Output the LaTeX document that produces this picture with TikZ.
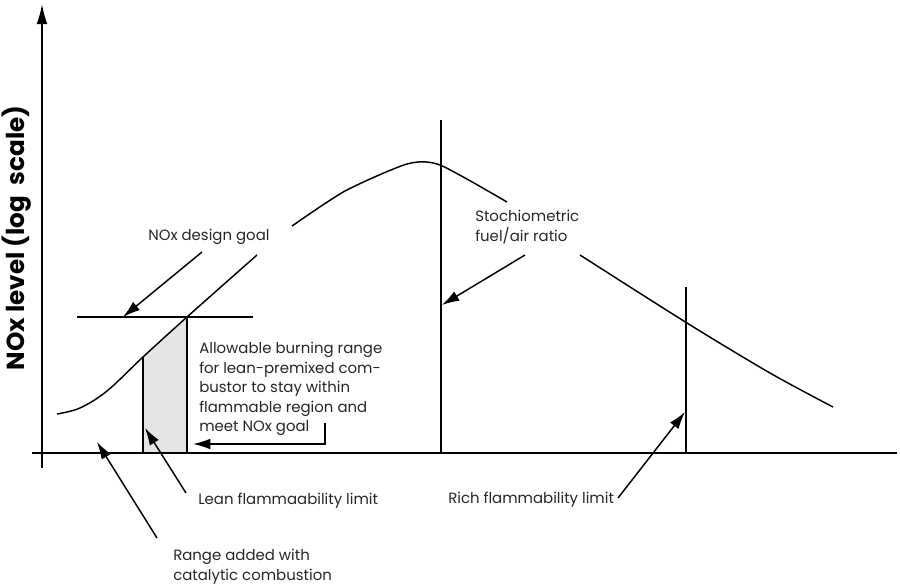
\documentclass[tikz,border=0pt]{standalone}
\usepackage{fontspec}
\setmainfont{Poppins}
\usetikzlibrary{arrows.meta}
\tikzset{
  lbl/.style={font=\fontsize{11.2}{13}\selectfont, text=black!85, inner sep=0pt},
  pointer/.style={line width=1.1pt, -{Latex[length=13pt,width=8pt]}},
  thinline/.style={line width=1.1pt}
}
\begin{document}
\begin{tikzpicture}[x=0.75pt,y=-0.75pt]
  \useasboundingbox (0,0) rectangle (900,587);
  \coordinate (ybot) at (42,468); \coordinate (ytop) at (42,4);
  \coordinate (xl) at (32,453); \coordinate (xr) at (897,453);
  \fill[black!10] (143,453) -- (143,357) -- (165,337) -- (187,317) -- (187,453) -- cycle;
  \draw[thinline, -{Latex[length=15pt,width=8pt]}] (ybot) -- (ytop);
  \draw[thinline] (xl) -- (xr);
  \draw[thinline] plot[smooth, tension=0.55] coordinates {(57,414) (80,408) (107,391) (143,357) (187,317) (257,255)};
  \draw[thinline] plot[smooth, tension=0.4] coordinates {(292,226) (345,191) (407,164) (440,165) (507,202)};
  \draw[thinline] plot[smooth, tension=0.5] coordinates {(580,255) (687,323) (770,373) (833,407)};
  \coordinate (goalL) at (77,317); \coordinate (goalR) at (253,317);
  \draw[thinline] (goalL) -- (goalR);
  \coordinate (leanB) at (143,453); \coordinate (leanT) at (143,357);
  \coordinate (allowB) at (187,453); \coordinate (allowT) at (187,317);
  \draw[thinline] (leanB) -- (leanT);
  \draw[thinline] (allowB) -- (allowT);
  \coordinate (stoB) at (441,453); \coordinate (stoT) at (441,120);
  \draw[thinline] (stoB) -- (stoT);
  \coordinate (richB) at (686,453); \coordinate (richT) at (686,287);
  \draw[thinline] (richB) -- (richT);

  \node[rotate=90, font=\fontsize{18.5}{20}\selectfont\bfseries, inner sep=0pt] (ylab) at (17,238) {NOx level (log\ \ scale)};
  \node[lbl, anchor=west] (goal) at (148,237) {NOx design goal};
  \node[lbl, anchor=north west, align=left, font=\fontsize{11.2}{14.8}\selectfont] (stoch) at (475,210) {Stochiometric\\fuel/air ratio};
  \node[lbl, anchor=north west, align=left, font=\fontsize{11.2}{14.6}\selectfont] (allow) at (199,342) {Allowable burning range\\for lean-premixed com-\\bustor to stay within\\flammable region and\\meet NOx goal};
  \node[lbl, anchor=west] (lean) at (198,501) {Lean flammaability limit};
  \node[lbl, anchor=west] (rich) at (448,500) {Rich\ flammability limit};
  \node[lbl, anchor=north west, align=left, font=\fontsize{11.2}{15}\selectfont] (range) at (173,549) {Range added with\\catalytic combustion};

  \coordinate (goalS) at (202,252); \coordinate (goalE) at (123,317);
  \draw[pointer] (goalS) -- (goalE);
  \coordinate (stoS) at (525,255); \coordinate (stoE) at (442,305);
  \draw[pointer] (stoS) -- (stoE);
  \coordinate (richS) at (618,498); \coordinate (richE) at (685,412);
  \draw[pointer] (richS) -- (richE);
  \coordinate (leanS) at (186,493); \coordinate (leanE) at (145,428);
  \draw[pointer] (leanS) -- (leanE);
  \coordinate (rangeS) at (157,538); \coordinate (rangeE) at (97,442);
  \draw[pointer] (rangeS) -- (rangeE);
  \coordinate (allowS) at (325,423); \coordinate (allowE) at (193,444);
  \draw[pointer] (allowS) |- (allowE);
\end{tikzpicture}
\end{document}
